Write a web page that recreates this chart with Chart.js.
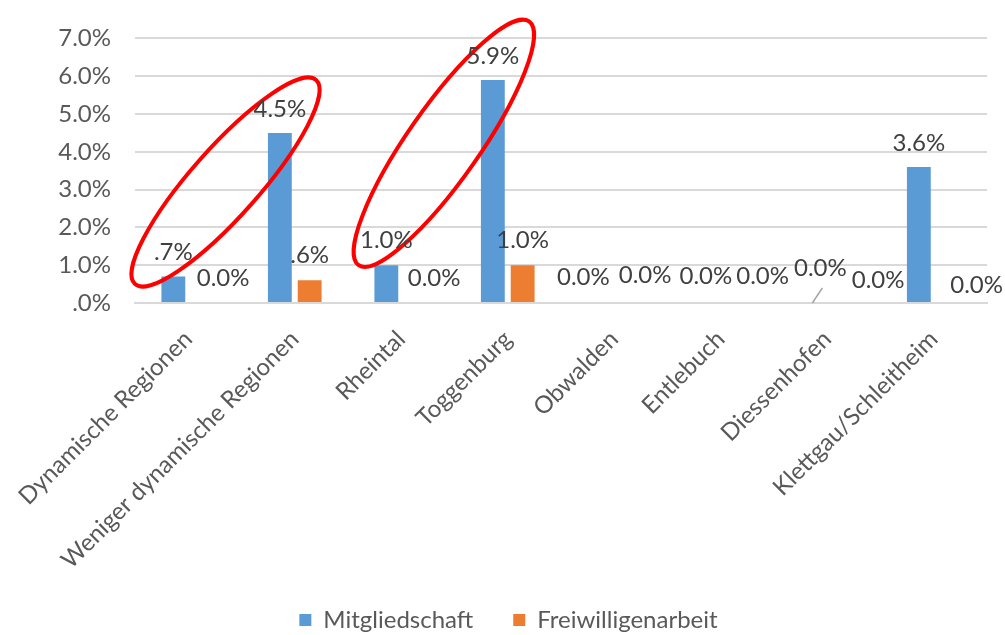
<!DOCTYPE html>
<html>
<head>
<meta charset="utf-8">
<script src="https://cdn.jsdelivr.net/npm/chart.js@4"></script>
<style>
  html, body { margin: 0; padding: 0; background: #fff; }
  #wrap { width: 1005px; height: 635px; }
</style>
</head>
<body>
<div id="wrap"><canvas id="chart" width="1005" height="635"></canvas></div>
<script>
const regions = [
  "Dynamische Regionen",
  "Weniger dynamische Regionen",
  "Rheintal",
  "Toggenburg",
  "Obwalden",
  "Entlebuch",
  "Diessenhofen",
  "Klettgau/Schleitheim"
];
const mitgliedschaft = [0.7, 4.5, 1.0, 5.9, 0.0, 0.0, 0.0, 3.6];
const freiwilligenarbeit = [0.0, 0.6, 0.0, 1.0, 0.0, 0.0, 0.0, 0.0];
const yTicks = [0, 1, 2, 3, 4, 5, 6, 7];

// label nudges (px) relative to bar top, like the moved labels in the original
const labelNudgeBlue = [[0, -24], [0, -24], [0, -25], [0, -24], [-16, -26], [0, -27], [8, -35], [0, -24]];
const labelNudgeOrange = [[20, -25], [0, -25], [18, -25], [0, -25], [16, -28], [27, -27], [36, -23], [28, -18]];

// red marker ellipses, ends given in (category index, value)
const ellipses = [
  { from: [-0.5, 0.5], to: [1.2, 5.9], r: 34 },
  { from: [1.6, 1.0], to: [3.2, 7.45], r: 36 }
];

const fontFamily = "Lato, 'Liberation Sans', sans-serif";

function fmt(v) {
  if (v === 0) return "0.0%";
  if (v < 1) return "." + Math.round(v * 10) + "%";
  return v.toFixed(1) + "%";
}

const labelPlugin = {
  id: "barLabels",
  afterDraw(chart) {
    const ctx = chart.ctx;
    const nudges = [labelNudgeBlue, labelNudgeOrange];
    ctx.save();
    ctx.font = "24px " + fontFamily;
    ctx.fillStyle = "#404040";
    ctx.textAlign = "center";
    ctx.textBaseline = "middle";
    chart.data.datasets.forEach((ds, di) => {
      const meta = chart.getDatasetMeta(di);
      meta.data.forEach((bar, i) => {
        const n = nudges[di][i];
        const x = bar.x + n[0];
        const y = bar.y + n[1];
        ctx.fillText(fmt(ds.data[i]), x, y);
        if (n[1] < -30) {
          // leader line for a moved label
          ctx.strokeStyle = "#a6a6a6";
          ctx.lineWidth = 1.5;
          ctx.beginPath();
          ctx.moveTo(bar.x, bar.y);
          ctx.lineTo(x + 2, y + 20);
          ctx.stroke();
        }
      });
    });
    ctx.restore();
  }
};

const ellipsePlugin = {
  id: "ellipses",
  afterDatasetsDraw(chart) {
    const ctx = chart.ctx;
    const xs = chart.scales.x;
    const ys = chart.scales.y;
    const px = (c) => xs.getPixelForValue(0) + c * (xs.getPixelForValue(1) - xs.getPixelForValue(0));
    ctx.save();
    ctx.strokeStyle = "#ff0000";
    ctx.lineWidth = 4;
    ellipses.forEach((e) => {
      const x1 = px(e.from[0]), y1 = ys.getPixelForValue(e.from[1]);
      const x2 = px(e.to[0]), y2 = ys.getPixelForValue(e.to[1]);
      const cx = (x1 + x2) / 2, cy = (y1 + y2) / 2;
      const a = Math.hypot(x2 - x1, y2 - y1) / 2;
      const ang = Math.atan2(y2 - y1, x2 - x1);
      ctx.beginPath();
      ctx.ellipse(cx, cy, a, e.r, ang, 0, Math.PI * 2);
      ctx.stroke();
    });
    ctx.restore();
  }
};

new Chart(document.getElementById("chart"), {
  type: "bar",
  data: {
    labels: regions,
    datasets: [
      {
        label: "Mitgliedschaft",
        data: mitgliedschaft,
        backgroundColor: "#5b9bd5",
        categoryPercentage: 0.56,
        barPercentage: 0.8
      },
      {
        label: "Freiwilligenarbeit",
        data: freiwilligenarbeit,
        backgroundColor: "#ed7d31",
        categoryPercentage: 0.56,
        barPercentage: 0.8
      }
    ]
  },
  options: {
    responsive: false,
    animation: false,
    layout: { padding: { top: 37, right: 18, left: 30, bottom: -7 } },
    plugins: {
      tooltip: { enabled: false },
      legend: {
        position: "bottom",
        labels: {
          font: { family: fontFamily, size: 24 },
          color: "#595959",
          boxWidth: 12,
          boxHeight: 12,
          padding: 40
        }
      }
    },
    scales: {
      x: {
        grid: { display: false, drawTicks: false },
        border: { color: "#d9d9d9", width: 2 },
        ticks: {
          autoSkip: false,
          maxRotation: 45,
          minRotation: 45,
          padding: 22,
          color: "#595959",
          font: { family: fontFamily, size: 24 }
        },
        afterFit(scale) {
          scale.height = 265;
          scale.paddingLeft = 0;
          scale.paddingRight = 0;
        }
      },
      y: {
        min: 0,
        max: 7,
        afterBuildTicks(scale) { scale.ticks = yTicks.map((v) => ({ value: v })); },
        grid: { color: "#d9d9d9", lineWidth: 2, drawTicks: false },
        border: { display: false },
        ticks: {
          padding: 24,
          color: "#595959",
          font: { family: fontFamily, size: 24 },
          callback: (v) => (v === 0 ? ".0%" : v.toFixed(1) + "%")
        },
        afterFit(scale) { scale.width = 105; }
      }
    }
  },
  plugins: [labelPlugin, ellipsePlugin]
});
</script>
</body>
</html>
